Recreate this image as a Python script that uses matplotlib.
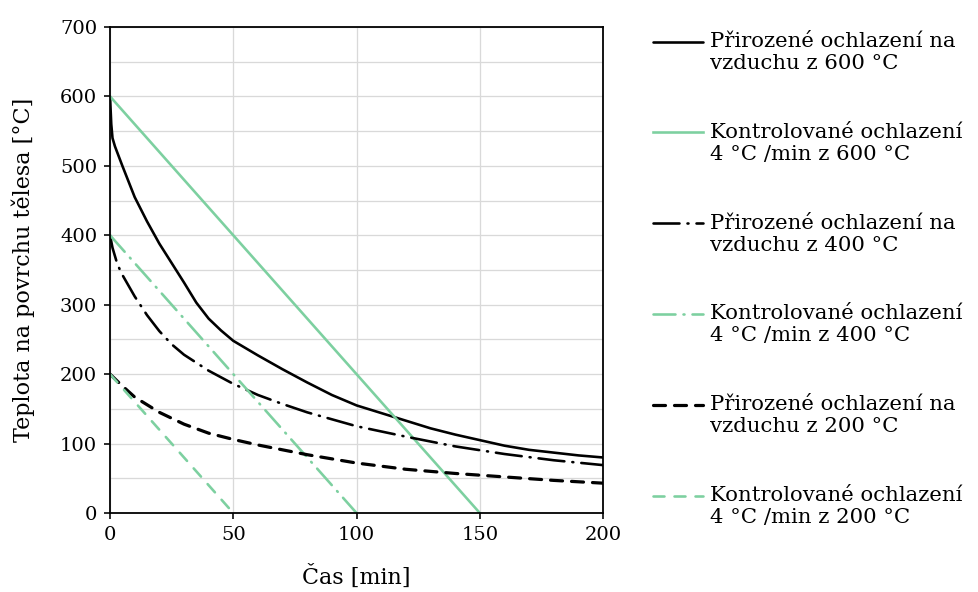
import numpy as np
import matplotlib
matplotlib.use("Agg")
import matplotlib.pyplot as plt
from matplotlib.ticker import MultipleLocator

plt.rcParams['font.family'] = ['DejaVu Serif']
plt.rcParams['lines.scale_dashes'] = False

# Natural air cooling from 600 °C
t_nat600 = [0, 0.5, 1, 2, 5, 10, 15, 20, 25, 30, 35, 40, 45, 50, 60, 70, 80, 90,
            100, 110, 120, 130, 140, 150, 160, 170, 180, 190, 200]
T_nat600 = [600, 560, 540, 528, 500, 455, 420, 388, 360, 332, 303, 280, 263, 248,
            227, 207, 188, 170, 155, 144, 133, 122, 113, 105, 97, 91, 87, 83, 80]

# Natural air cooling from 400 °C
t_nat400 = [0, 1, 3, 5, 10, 15, 20, 25, 30, 40, 50, 60, 70, 80, 90, 100, 120, 140,
            160, 180, 200]
T_nat400 = [400, 382, 358, 343, 312, 285, 262, 243, 228, 205, 186, 170, 157, 145,
            135, 125, 110, 96, 85, 76, 69]

# Natural air cooling from 200 °C
t_nat200 = [0, 5, 10, 20, 30, 40, 50, 60, 70, 80, 90, 100, 120, 140, 160, 180, 200]
T_nat200 = [200, 183, 167, 145, 128, 115, 106, 98, 91, 84, 78, 72, 63, 57, 52, 47, 43]

# Controlled cooling at 4 °C/min
t_ctl600 = [0, 150]
T_ctl600 = [600, 0]
t_ctl400 = [0, 100]
T_ctl400 = [400, 0]
t_ctl200 = [0, 50]
T_ctl200 = [200, 0]

labels = [
    "Přirozené ochlazení na\nvzduchu z 600 °C",
    "Kontrolované ochlazení\n4 °C /min z 600 °C",
    "Přirozené ochlazení na\nvzduchu z 400 °C",
    "Kontrolované ochlazení\n4 °C /min z 400 °C",
    "Přirozené ochlazení na\nvzduchu z 200 °C",
    "Kontrolované ochlazení\n4 °C /min z 200 °C",
]
# a blank leading line keeps each legend key level with the first text line
leg_labels = [" \n" + s for s in labels]

green = "#7dd0a0"
px = 0.72  # points per pixel at 100 dpi

fig = plt.figure(figsize=(9.79, 5.92), dpi=100)
ax = fig.add_axes([0.1124, 0.1334, 0.5036, 0.821])

ax.plot(t_nat600, T_nat600, color="black", lw=2.6 * px, label=leg_labels[0],
        solid_capstyle="round", solid_joinstyle="round")
ax.plot(t_ctl600, T_ctl600, color=green, lw=2.6 * px, label=leg_labels[1])
ax.plot(t_nat400, T_nat400, color="black", lw=2.6 * px, label=leg_labels[2],
        dash_capstyle="round",
        linestyle=(0, (26 * px, 8 * px, 1 * px, 8 * px)))
ax.plot(t_ctl400, T_ctl400, color=green, lw=2.6 * px, label=leg_labels[3],
        dash_capstyle="round",
        linestyle=(0, (22 * px, 8 * px, 1 * px, 8 * px)))
ax.plot(t_nat200, T_nat200, color="black", lw=3.2 * px, label=leg_labels[4],
        dash_capstyle="round",
        linestyle=(0, (12 * px, 9 * px)))
ax.plot(t_ctl200, T_ctl200, color=green, lw=2.6 * px, label=leg_labels[5],
        dash_capstyle="round",
        linestyle=(0, (11 * px, 10 * px)))

ax.set_xlim(0, 200)
ax.set_ylim(0, 700)
ax.xaxis.set_major_locator(MultipleLocator(50))
ax.yaxis.set_major_locator(MultipleLocator(100))
ax.yaxis.set_minor_locator(MultipleLocator(50))
ax.grid(True, which="major", color="#d9d9d9", lw=1.3 * px)
ax.grid(True, which="minor", axis="y", color="#d9d9d9", lw=1.3 * px)
ax.set_axisbelow(True)
ax.tick_params(which="major", direction="out", length=6 * px, width=1.6 * px,
               labelsize=14, colors="black", pad=5)
ax.tick_params(which="minor", length=0)
for s in ax.spines.values():
    s.set_linewidth(1.8 * px)
    s.set_color("black")

ax.set_xlabel("Čas [min]", fontsize=16, labelpad=15)
ax.set_ylabel("Teplota na povrchu tělesa [°C]", fontsize=16, labelpad=18)

leg = ax.legend(loc="upper left", bbox_to_anchor=(1.101, 1.035), frameon=False,
                fontsize=15.3, handlelength=2.38, handletextpad=0.3,
                labelspacing=1.31, borderaxespad=0, borderpad=0)

fig.savefig("out.png", dpi=100)
